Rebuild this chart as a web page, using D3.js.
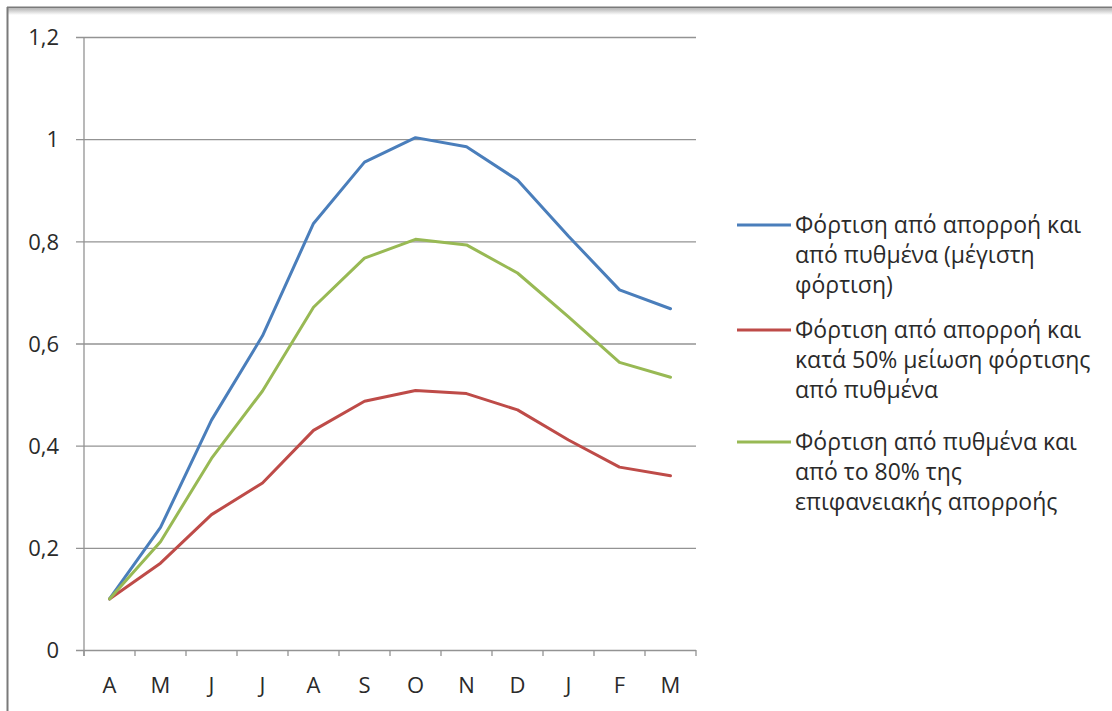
<!DOCTYPE html>
<html>
<head>
<meta charset="utf-8">
<script src="https://cdn.jsdelivr.net/npm/d3@7"></script>
<style>
  html, body { margin: 0; padding: 0; background: #fff; }
  svg { display: block; }
</style>
</head>
<body>
<svg id="chart" width="1112" height="711"></svg>
<script>
// Months (April to March)
const months = ["A", "M", "J", "J", "A", "S", "O", "N", "D", "J", "F", "M"];

// Loading series
const maxLoad = [0.10, 0.24, 0.45, 0.615, 0.835, 0.955, 1.003, 0.985, 0.92, 0.81, 0.705, 0.668];
const halfBedLoad = [0.10, 0.17, 0.265, 0.327, 0.43, 0.487, 0.508, 0.502, 0.47, 0.411, 0.358, 0.341];
const bedPlus80 = [0.10, 0.212, 0.375, 0.507, 0.671, 0.767, 0.804, 0.793, 0.738, 0.652, 0.563, 0.534];

const yTicks = [0, 0.2, 0.4, 0.6, 0.8, 1, 1.2];
const yTickLabels = ["0", "0,2", "0,4", "0,6", "0,8", "1", "1,2"];

const seriesNames = [
  ["Φόρτιση από απορροή και", "από πυθμένα (μέγιστη", "φόρτιση)"],
  ["Φόρτιση από απορροή και", "κατά 50% μείωση φόρτισης", "από πυθμένα"],
  ["Φόρτιση από πυθμένα και", "από το 80% της", "επιφανειακής απορροής"]
];
const seriesColors = ["#4a7ebb", "#be4b48", "#98b954"];
const seriesValues = [maxLoad, halfBedLoad, bedPlus80];

const svg = d3.select("#chart");
const font = "'Open Sans', 'Noto Sans', sans-serif";
const textColor = "#2a2a2a";

// Frame edge (top and left) with a soft shade under the top rule
const defs = svg.append("defs");
const grad = defs.append("linearGradient").attr("id", "topShade").attr("x1", 0).attr("x2", 0).attr("y1", 0).attr("y2", 1);
grad.append("stop").attr("offset", 0).attr("stop-color", "#bdbdbd");
grad.append("stop").attr("offset", 1).attr("stop-color", "#ffffff");
svg.append("rect").attr("x", 8).attr("y", 9).attr("width", 1104).attr("height", 6).attr("fill", "url(#topShade)");
svg.append("line").attr("x1", 7).attr("x2", 1112).attr("y1", 7.5).attr("y2", 7.5).attr("stroke", "#7a7a7a").attr("stroke-width", 2);
svg.append("line").attr("x1", 7.5).attr("x2", 7.5).attr("y1", 7).attr("y2", 711).attr("stroke", "#7a7a7a").attr("stroke-width", 2);

const plot = { left: 84, right: 696, top: 37, bottom: 650 };

const x = d3.scaleBand().domain(d3.range(months.length)).range([plot.left, plot.right]).padding(0);
const y = d3.scaleLinear().domain([0, 1.2]).range([plot.bottom, plot.top]);

// Horizontal gridlines with short outer ticks
const yAxis = d3.axisLeft(y)
  .tickValues(yTicks)
  .tickSize(plot.right - plot.left + 8)
  .tickFormat((d, i) => yTickLabels[i]);

const gy = svg.append("g").attr("transform", `translate(${plot.right},0)`).call(yAxis);
gy.select(".domain").remove();
gy.selectAll(".tick line").attr("stroke", "#939393").attr("stroke-width", 1.3);
gy.selectAll(".tick text")
  .attr("x", -(plot.right - 59))
  .attr("dy", "0.35em")
  .attr("fill", textColor)
  .style("font-family", font)
  .style("font-size", "22px");

// Vertical value axis line
svg.append("line")
  .attr("x1", plot.left).attr("x2", plot.left)
  .attr("y1", plot.top).attr("y2", plot.bottom + 6)
  .attr("stroke", "#939393").attr("stroke-width", 1.3);

// Category axis: ticks at band boundaries, labels centred in bands
const gx = svg.append("g").attr("transform", `translate(0,${plot.bottom})`);
gx.selectAll("line.tk")
  .data(d3.range(months.length + 1))
  .join("line")
  .attr("class", "tk")
  .attr("x1", i => plot.left + i * x.bandwidth())
  .attr("x2", i => plot.left + i * x.bandwidth())
  .attr("y1", 0).attr("y2", 6)
  .attr("stroke", "#939393").attr("stroke-width", 1.3);
gx.selectAll("text")
  .data(months)
  .join("text")
  .attr("x", (d, i) => x(i) + x.bandwidth() / 2)
  .attr("y", 43)
  .attr("text-anchor", "middle")
  .attr("fill", textColor)
  .style("font-family", font)
  .style("font-size", "22px")
  .text(d => d);

// Series lines
const line = d3.line()
  .x((d, i) => x(i) + x.bandwidth() / 2)
  .y(d => y(d));

svg.selectAll("path.series")
  .data(seriesValues)
  .join("path")
  .attr("class", "series")
  .attr("d", d => line(d))
  .attr("fill", "none")
  .attr("stroke", (d, i) => seriesColors[i])
  .attr("stroke-width", 3)
  .attr("stroke-linejoin", "round")
  .attr("stroke-linecap", "round");

// Legend
const legendTop = [225, 330, 442];
const lineGap = 30;
const legend = svg.append("g");
seriesNames.forEach((lines, i) => {
  const g = legend.append("g").attr("transform", `translate(0,${legendTop[i]})`);
  g.append("line")
    .attr("x1", 737).attr("x2", 791)
    .attr("y1", 0).attr("y2", 0)
    .attr("stroke", seriesColors[i]).attr("stroke-width", 3);
  lines.forEach((t, j) => {
    g.append("text")
      .attr("x", 795)
      .attr("y", j * lineGap)
      .attr("dy", "0.35em")
      .attr("fill", textColor)
      .style("font-family", font)
      .style("font-size", "23px")
      .text(t);
  });
});
</script>
</body>
</html>
